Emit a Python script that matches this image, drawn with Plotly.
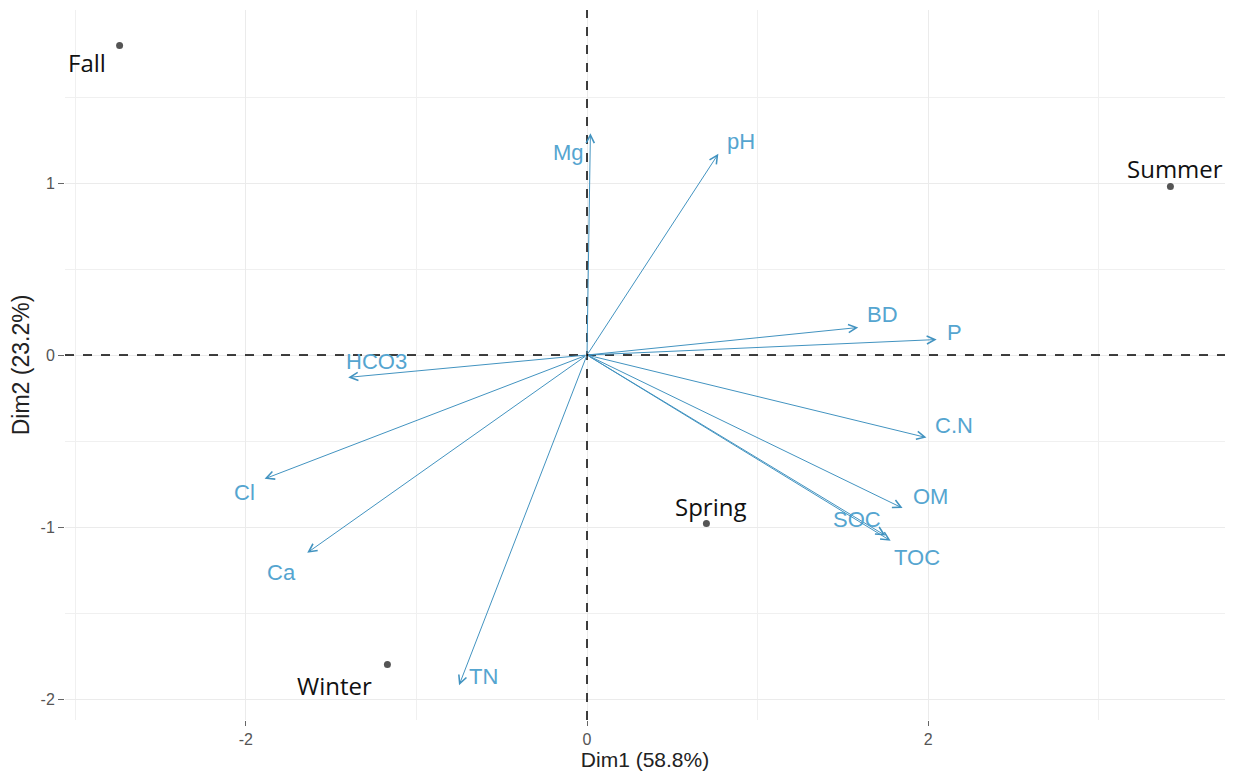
import plotly.graph_objects as go

# ---- data ----
season_names = ["Fall", "Summer", "Spring", "Winter"]
season_dim1 = [-2.74, 3.42, 0.70, -1.17]
season_dim2 = [1.80, 0.98, -0.98, -1.80]

var_names = ["Mg", "pH", "BD", "P", "C.N", "OM", "SOC", "TOC", "HCO3", "Cl", "Ca", "TN"]
var_dim1 = [0.02, 0.77, 1.59, 2.05, 1.99, 1.85, 1.75, 1.78, -1.40, -1.89, -1.64, -0.75]
var_dim2 = [1.29, 1.17, 0.16, 0.09, -0.48, -0.89, -1.05, -1.08, -0.13, -0.72, -1.15, -1.92]

x_ticks = [-2, 0, 2]
y_ticks = [-2, -1, 0, 1]

# ---- label offsets (px) ----
var_shift = {"Mg": (-22, -19), "pH": (23, 12), "BD": (24, 13), "P": (18, 7),
             "C.N": (28, 12), "OM": (28, 12), "SOC": (-29, 16), "TOC": (26, -17),
             "HCO3": (28, 16), "Cl": (-20, -14), "Ca": (-26, -20), "TN": (24, 9)}
season_shift = {"Fall": (-33, -17), "Summer": (5, 18), "Spring": (4, 17), "Winter": (-53, -21)}

ARROW_COL = "#4293c0"
TEXT_COL = "#55a5d0"

fig = go.Figure()
fig.add_trace(go.Scatter(x=season_dim1, y=season_dim2, mode="markers",
                         marker=dict(color="#555555", size=7), showlegend=False,
                         hoverinfo="skip"))

annotations = []
for n, x, y in zip(var_names, var_dim1, var_dim2):
    annotations.append(dict(x=x, y=y, ax=0, ay=0, xref="x", yref="y", axref="x", ayref="y",
                            text="", showarrow=True, arrowhead=5, arrowsize=1.6,
                            arrowwidth=1, arrowcolor=ARROW_COL))
    dx, dy = var_shift[n]
    annotations.append(dict(x=x, y=y, xref="x", yref="y", text=n, showarrow=False,
                            xshift=dx, yshift=dy,
                            font=dict(family="Liberation Sans, Arial", size=22, color=TEXT_COL)))
for n, x, y in zip(season_names, season_dim1, season_dim2):
    dx, dy = season_shift[n]
    annotations.append(dict(x=x, y=y, xref="x", yref="y", text=n, showarrow=False,
                            xshift=dx, yshift=dy,
                            font=dict(family="Open Sans, Noto Sans", size=24, color="#111111")))

shapes = [
    dict(type="line", xref="x", yref="paper", x0=0, x1=0, y0=0, y1=1,
         line=dict(color="black", width=1.5, dash="dash")),
    dict(type="line", xref="paper", yref="y", x0=0, x1=1, y0=0, y1=0,
         line=dict(color="black", width=1.5, dash="dash")),
]

fig.update_layout(
    width=1217, height=766,
    margin=dict(l=57, r=0, t=2, b=54),
    paper_bgcolor="white", plot_bgcolor="white",
    annotations=annotations, shapes=shapes,
    font=dict(family="Liberation Sans, Arial", color="#4d4d4d"),
    xaxis=dict(range=[-3.06, 3.74], tickvals=x_ticks, ticktext=[str(v) for v in x_ticks],
               automargin=False,
               showgrid=True, gridcolor="#ebebeb", gridwidth=1, zeroline=False,
               minor=dict(tickvals=[-3, -1, 1, 3], showgrid=True, gridcolor="#f0f0f0", gridwidth=1),
               ticks="outside", ticklen=5, tickcolor="#666666", tickwidth=1,
               tickfont=dict(size=16, color="#555555"),
               title=dict(text="Dim1 (58.8%)", font=dict(size=21, color="#222222"), standoff=3),
               showline=False),
    yaxis=dict(range=[-2.122, 2.006], tickvals=y_ticks, ticktext=[str(v) for v in y_ticks],
               automargin=False,
               showgrid=True, gridcolor="#ebebeb", gridwidth=1, zeroline=False,
               minor=dict(tickvals=[-1.5, -0.5, 0.5, 1.5], showgrid=True, gridcolor="#f0f0f0", gridwidth=1),
               ticks="outside", ticklen=6, tickcolor="#666666", tickwidth=1,
               tickfont=dict(size=16, color="#555555"),
               title=dict(text="Dim2 (23.2%)", font=dict(size=23, color="#222222"), standoff=6),
               showline=False),
)

fig.write_html("out.html")
